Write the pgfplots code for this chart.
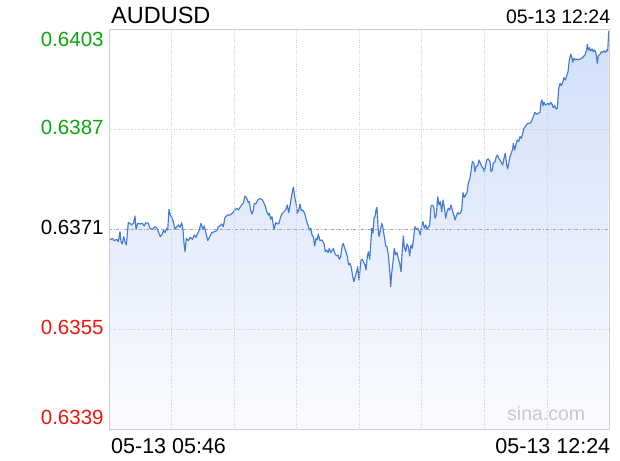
\documentclass[border=0pt]{standalone}
\usepackage{pgfplots}
\pgfplotsset{compat=1.18}
\usepackage{fontspec}
\setmainfont{Liberation Sans}

\definecolor{lineBlue}{RGB}{68,122,214}
\definecolor{fillTop}{RGB}{208,223,249}
\definecolor{fillBot}{RGB}{250,251,254}
\definecolor{gridGray}{RGB}{205,205,205}
\definecolor{refGray}{RGB}{165,165,165}
\definecolor{upGreen}{RGB}{10,168,10}
\definecolor{downRed}{RGB}{236,22,12}
\definecolor{markGray}{RGB}{200,200,200}

\pgfplotstableread{
x y
0 0.636945
1 0.636929
3.3 0.636956
5.3 0.636918
7.7 0.636940
9.3 0.636902
11 0.637062
12 0.636902
13.3 0.636865
14.7 0.636982
16 0.636902
17.3 0.636849
19.3 0.637206
21 0.637196
22.7 0.637169
24.7 0.637206
26 0.637313
27 0.637100
28.7 0.637196
31 0.637185
33.3 0.637196
35.3 0.637153
36.7 0.637206
39.3 0.637196
41 0.637116
43.3 0.637100
46 0.637142
48 0.637116
49.3 0.637062
51.3 0.636982
53.3 0.637025
54.7 0.637089
56 0.637046
57.7 0.637116
58.7 0.637089
60 0.637420
61.3 0.637329
62.7 0.637292
64.3 0.637222
66 0.637100
67.7 0.637142
69.3 0.637169
71 0.637132
72.7 0.637206
74 0.637089
75 0.636876
76 0.636742
77.3 0.636956
79.3 0.636918
81.3 0.636972
83.3 0.636940
85.3 0.637009
87 0.636972
88.7 0.637036
90 0.637078
92 0.637196
93.7 0.637100
95.3 0.637153
97 0.637036
98.7 0.636918
100.7 0.636982
102.7 0.637046
105.3 0.637062
107.7 0.637078
109.3 0.637142
111 0.637153
112.7 0.637185
114.3 0.637142
116 0.637292
118.7 0.637329
121 0.637329
123.3 0.637356
125.3 0.637398
127.7 0.637436
129.3 0.637409
131 0.637452
132.7 0.637489
134.3 0.637516
136 0.637633
137.7 0.637596
139.3 0.637526
140.3 0.637542
141.7 0.637398
143 0.637345
144.3 0.637409
145.3 0.637516
147 0.637505
148.7 0.637569
151 0.637590
153 0.637580
154.3 0.637542
156.3 0.637473
157.7 0.637382
159.3 0.637329
160.3 0.637356
161.7 0.637260
163 0.637302
165 0.637100
166.7 0.637206
168.3 0.637185
170 0.637196
171.7 0.637302
173.3 0.637356
175 0.637382
176.7 0.637409
178.3 0.637489
179.7 0.637366
181.7 0.637542
183 0.637676
184.3 0.637772
185.7 0.637622
187 0.637526
188.3 0.637356
189.7 0.637409
191 0.637505
192.3 0.637398
193.7 0.637409
195.7 0.637356
197.7 0.637222
199 0.637169
200.3 0.637089
201.7 0.637116
203 0.637009
204.3 0.636982
205.7 0.636833
207 0.636956
208.3 0.636929
209.3 0.637025
211 0.636918
213 0.636929
215 0.636876
216.3 0.636742
217.7 0.636769
219 0.636726
220.3 0.636796
221.7 0.636726
223 0.636758
224.3 0.636796
226 0.636705
227.7 0.636673
229 0.636689
230.3 0.636620
231.7 0.636662
233 0.636822
234.3 0.636876
235.7 0.636796
237 0.636742
238.3 0.636662
239.7 0.636529
241 0.636556
242.3 0.636492
243.7 0.636342
245 0.636262
246.3 0.636350
247.7 0.636420
248.7 0.636500
250 0.636289
251 0.636449
252 0.636609
253.3 0.636620
254.7 0.636566
256 0.636529
257 0.636449
258.3 0.636662
259.3 0.636742
260.7 0.636620
262 0.636929
262.7 0.637116
264 0.637036
265 0.637276
266 0.637302
267 0.637409
268 0.637452
269 0.637142
270 0.636982
271.3 0.637078
272.7 0.637196
274 0.637116
275.3 0.636982
276.7 0.636833
278 0.636822
279.3 0.636689
280.7 0.636449
281.7 0.636182
282.7 0.636396
284 0.636582
285.3 0.636796
286.7 0.636689
288 0.636726
289.3 0.636636
290.7 0.636556
292 0.636422
293.3 0.636769
294.3 0.636993
295.3 0.636822
296.7 0.636742
298 0.636865
299.3 0.636822
300.7 0.636673
302 0.636849
303.3 0.636796
304.7 0.636982
306 0.637142
307.3 0.637100
308.7 0.637116
310 0.637078
311.3 0.637009
312.7 0.637153
314 0.637222
315.3 0.637116
316.7 0.637169
318 0.637100
319.3 0.637132
320.7 0.637169
322 0.637473
323.3 0.637489
324.7 0.637462
326 0.637276
327.3 0.637329
328.7 0.637622
330 0.637489
331.3 0.637542
332.7 0.637382
334 0.637569
335.3 0.637462
336.7 0.637276
338 0.637382
339.3 0.637436
340.7 0.637409
342 0.637489
343.3 0.637409
344.7 0.637329
346 0.637249
347.3 0.637313
348.7 0.637366
350 0.637345
351.3 0.637356
352.7 0.637409
354 0.637686
355.3 0.637612
356.7 0.637649
358 0.637686
359.3 0.637836
360.7 0.637900
362 0.638022
363.3 0.638182
364.7 0.638166
366 0.638022
367.3 0.638113
368.7 0.638113
370 0.638209
371.3 0.638161
372.7 0.638102
374.3 0.638076
375.3 0.638022
376.7 0.638129
377.7 0.638209
379.3 0.638225
381 0.638182
382 0.638022
383.3 0.638049
384.3 0.638156
386 0.638182
387 0.638246
388.3 0.638289
389.7 0.638236
391 0.638209
392.3 0.638172
393.7 0.638129
395 0.638236
396.3 0.638316
397.7 0.638129
398.7 0.638065
399.7 0.638156
401 0.638262
402.3 0.638316
403.7 0.638385
404.3 0.638476
405.7 0.638369
407 0.638460
408.3 0.638529
409.7 0.638502
411 0.638582
412.3 0.638556
413.7 0.638636
415 0.638716
416.3 0.638742
417.7 0.638780
419.3 0.638796
421 0.638796
422.7 0.638833
424.3 0.638902
426 0.638972
427.7 0.638940
429.3 0.638956
431 0.638972
432 0.639132
433 0.639169
434 0.639078
435 0.639132
436.3 0.639089
437.7 0.639100
439 0.639116
440.3 0.639089
441.7 0.639132
443 0.639100
444.3 0.639046
445.7 0.639078
447 0.639025
448.3 0.639036
449.7 0.639356
451 0.639436
452.3 0.639398
453.7 0.639452
455 0.639526
456.3 0.639489
457.7 0.639558
459 0.639622
460.3 0.639809
461.7 0.639900
462.7 0.639862
463.7 0.639772
465 0.639836
466.3 0.639809
467.7 0.639825
469.3 0.639809
471 0.639825
472.7 0.639836
474.3 0.639862
476 0.639889
477.7 0.639985
478.3 0.640060
479.3 0.639969
480.3 0.640006
481.7 0.639953
483 0.639985
484.3 0.639942
485.7 0.639969
487 0.639916
488.3 0.639756
489.3 0.639878
491 0.639900
492.3 0.639942
493.7 0.639932
495 0.639953
496.3 0.639932
497.7 0.639969
498.7 0.639953
499.7 0.640270
}\quote

\begin{document}
\begin{tikzpicture}[lbl/.style={inner sep=0pt}]
\path[use as bounding box] (-109pt,-30.7pt) rectangle (511pt,429.3pt);

\begin{axis}[
    at={(0pt,0pt)}, anchor=south west,
    scale only axis,
    width=500.5pt, height=400pt,
    xmin=0, xmax=500.5,
    ymin=0.6339, ymax=0.6403,
    axis on top,
    axis line style={draw=gridGray, line width=0.8pt},
    xtick={62.56,125.12,187.69,250.25,312.81,375.37,437.94},
    ytick={0.6355,0.6387},
    xticklabels={}, yticklabels={},
    tick style={draw=none},
    grid=major,
    major grid style={gridGray, dotted, line width=0.7pt},
]
\addplot [draw=none, top color=fillTop, bottom color=fillBot]
    table [x=x, y=y] {\quote} \closedcycle;
\addplot [refGray, dash dot, line width=0.7pt]
    coordinates {(0,0.6371) (500.5,0.6371)};
\addplot [lineBlue, line width=1.15pt, line join=round]
    table [x=x, y=y] {\quote};
\end{axis}

% titles and labels
\node[lbl, anchor=base west, font=\fontsize{23.5}{26}\selectfont] at (2pt,405.3pt) {AUDUSD};
\node[lbl, anchor=base east, font=\fontsize{19.5}{22}\selectfont] at (501.4pt,406pt) {05-13 12:24};

\node[lbl, anchor=base east, text=upGreen, font=\fontsize{20.5}{24}\selectfont] at (-5.2pt,382.6pt) {0.6403};
\node[lbl, anchor=base east, text=upGreen, font=\fontsize{20.5}{24}\selectfont] at (-5.2pt,294.3pt) {0.6387};
\node[lbl, anchor=base east, text=black, font=\fontsize{20.5}{24}\selectfont] at (-5.2pt,194.3pt) {0.6371};
\node[lbl, anchor=base east, text=downRed, font=\fontsize{20.5}{24}\selectfont] at (-5.2pt,94.3pt) {0.6355};
\node[lbl, anchor=base east, text=downRed, font=\fontsize{20.5}{24}\selectfont] at (-5.2pt,5.3pt) {0.6339};

\node[lbl, anchor=base west, font=\fontsize{21.5}{24}\selectfont] at (2pt,-23.7pt) {05-13 05:46};
\node[lbl, anchor=base east, font=\fontsize{21.5}{24}\selectfont] at (501.4pt,-23.7pt) {05-13 12:24};

\node[lbl, anchor=base west, text=markGray, font=\fontsize{19.5}{22}\selectfont] at (398pt,9.3pt) {sina.com};
\end{tikzpicture}
\end{document}
